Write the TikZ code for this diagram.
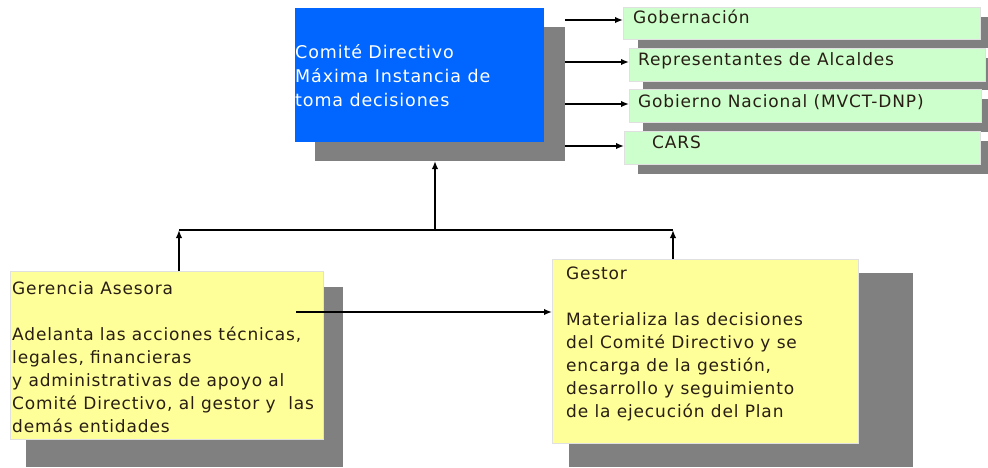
\documentclass[tikz,border=0pt]{standalone}
\usepackage{fontspec}
\newfontfamily\dvs[LetterSpace=5]{DejaVu Sans}
\usetikzlibrary{arrows.meta}
\definecolor{cdblue}{RGB}{0,102,255}
\definecolor{pgreen}{RGB}{204,255,204}
\definecolor{pyellow}{RGB}{255,255,153}
\definecolor{shgray}{RGB}{128,128,128}
\definecolor{txt}{RGB}{40,30,20}
\newcommand\toprl{\rule{0pt}{14pt}}
\begin{document}
\begin{tikzpicture}[x=1pt,y=-1pt,
  rect/.style={anchor=north west, inner sep=0pt, outer sep=0pt},
  shade/.style={rect, fill=shgray},
  bluebox/.style={rect, fill=cdblue},
  greenbox/.style={rect, fill=pgreen, draw=black!12, line width=0.6pt},
  yellowbox/.style={rect, fill=pyellow, draw=black!12, line width=0.6pt},
  lbl/.style={anchor=north west, inner sep=0pt, align=left, text=txt,
    font=\dvs\fontsize{17}{23}\selectfont},
  arr/.style={line width=1.8pt, -{Latex[length=8pt,width=6.5pt]}},
  ln/.style={line width=1.8pt}]
\useasboundingbox (0,0) rectangle (988,467);
% shadows
\node[shade, minimum width=250pt, minimum height=134pt] (cdsh) at (315,27) {};
\node[shade, minimum width=350pt, minimum height=31pt] (g1sh) at (638,17) {};
\node[shade, minimum width=345pt, minimum height=32pt] (g2sh) at (643,58) {};
\node[shade, minimum width=345pt, minimum height=33pt] (g3sh) at (643,99) {};
\node[shade, minimum width=350pt, minimum height=33pt] (g4sh) at (638,141) {};
\node[shade, minimum width=317pt, minimum height=180pt] (gesh) at (26,287) {};
\node[shade, minimum width=344pt, minimum height=194pt] (gssh) at (569,273) {};
% boxes
\node[bluebox, minimum width=249pt, minimum height=134pt] (cd) at (295,8) {};
\node[greenbox, minimum width=357pt, minimum height=32pt] (g1) at (623,7) {};
\node[greenbox, minimum width=356pt, minimum height=33pt] (g2) at (629,48) {};
\node[greenbox, minimum width=352pt, minimum height=33pt] (g3) at (629,89) {};
\node[greenbox, minimum width=356pt, minimum height=33pt] (g4) at (624,131) {};
\node[yellowbox, minimum width=313pt, minimum height=168pt] (ge) at (10,271) {};
\node[yellowbox, minimum width=306pt, minimum height=184pt] (gs) at (552,259) {};
% texts (top = baseline - 14)
\node[lbl, text=white, font=\dvs\fontsize{17.5}{24}\selectfont] (cdt) at (295,44) {\toprl Comité Directivo\\Máxima Instancia de\\toma decisiones};
\node[lbl] (g1t) at (633,9) {\toprl Gobernación};
\node[lbl] (g2t) at (638,51) {\toprl Representantes de Alcaldes};
\node[lbl] (g3t) at (638,93) {\toprl Gobierno Nacional (MVCT-DNP)};
\node[lbl] (g4t) at (652,134) {\toprl CARS};
\node[lbl] (get) at (12,280) {\toprl Gerencia Asesora\\[23pt]Adelanta las acciones técnicas,\\legales, financieras\\y administrativas de apoyo al\\Comité Directivo, al gestor y \ las\\demás entidades};
\node[lbl] (gst) at (566,265) {\toprl Gestor\\[23pt]Materializa las decisiones\\del Comité Directivo y se\\encarga de la gestión,\\desarrollo y seguimiento\\de la ejecución del Plan};
% connectors
\draw[arr] (cdsh.east |- 0,20) -- (g1.west |- 0,20);
\draw[arr] (cdsh.east |- 0,62) -- (g2.west |- 0,62);
\draw[arr] (cdsh.east |- 0,104) -- (g3.west |- 0,104);
\draw[arr] (cdsh.east |- 0,146) -- (g4.west |- 0,146);
\coordinate (jl) at (179,230);
\coordinate (jr) at (673,230);
\coordinate (jm) at (435,230);
\draw[ln] (jl) -- (jr);
\draw[arr] (ge.north -| jl) -- (jl);
\draw[arr] (gs.north -| jr) -- (jr);
\draw[arr] (jm) -- (jm |- cdsh.south);
\coordinate (hs) at (296,312);
\draw[arr] (hs) -- (hs -| gs.west);
\end{tikzpicture}
\end{document}
